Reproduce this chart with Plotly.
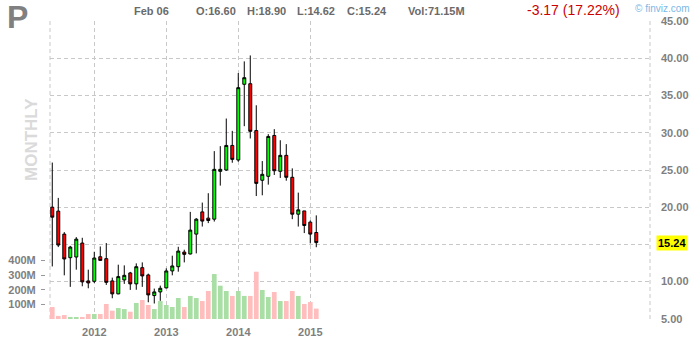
import plotly.graph_objects as go

# ---------------- data (monthly, Jun 2011 - Feb 2015) ----------------
months = ["2011-06", "2011-07", "2011-08", "2011-09", "2011-10", "2011-11", "2011-12",
          "2012-01", "2012-02", "2012-03", "2012-04", "2012-05", "2012-06", "2012-07",
          "2012-08", "2012-09", "2012-10", "2012-11", "2012-12",
          "2013-01", "2013-02", "2013-03", "2013-04", "2013-05", "2013-06", "2013-07",
          "2013-08", "2013-09", "2013-10", "2013-11", "2013-12",
          "2014-01", "2014-02", "2014-03", "2014-04", "2014-05", "2014-06", "2014-07",
          "2014-08", "2014-09", "2014-10", "2014-11", "2014-12",
          "2015-01", "2015-02"]
opens = [20.00, 19.47, 16.38, 13.21, 13.30, 15.18, 10.09,
         10.04, 13.34, 13.08, 10.09, 8.35, 10.22, 11.16, 9.69, 11.87, 10.89, 8.12, 8.61,
         9.15, 11.43, 12.00, 13.97, 13.71, 16.38, 19.37, 18.53, 18.39, 24.82, 25.00, 28.30,
         26.34, 36.52, 36.60, 30.30, 23.62, 24.15, 29.64, 24.82, 26.97, 24.02, 19.06, 19.50,
         17.99, 16.60]
highs = [26.00, 21.25, 16.65, 14.80, 15.98, 15.89, 11.60,
         14.01, 14.72, 15.18, 10.53, 12.27, 12.18, 11.30, 12.45, 12.58, 11.07, 9.06, 9.46,
         11.78, 13.48, 14.68, 14.28, 19.37, 18.53, 20.62, 21.88, 27.54, 28.21, 31.92, 30.26,
         38.03, 39.60, 40.40, 33.70, 26.20, 29.82, 30.49, 29.00, 28.48, 25.22, 21.96, 19.50,
         18.21, 18.90]
lows = [12.04, 14.64, 10.84, 9.29, 11.60, 9.37, 9.10,
        9.80, 12.85, 9.55, 7.76, 8.30, 9.69, 8.88, 8.90, 9.29, 7.22, 7.05, 7.41,
        9.10, 10.84, 11.33, 12.58, 13.65, 13.79, 17.40, 17.86, 18.07, 22.90, 24.90, 25.97,
        26.11, 30.89, 29.24, 21.50, 21.60, 23.03, 24.33, 23.93, 23.56, 18.39, 17.40, 16.52,
        15.13, 14.62]
closes = [18.66, 14.91, 13.04, 14.64, 15.71, 9.96, 9.82,
          13.17, 12.85, 9.90, 8.35, 10.67, 10.84, 9.69, 12.00, 10.76, 8.21, 8.61, 9.10,
          11.43, 12.10, 14.10, 13.66, 16.92, 18.39, 18.13, 18.21, 25.09, 25.09, 28.30, 26.43,
          36.07, 37.41, 30.20, 23.20, 24.42, 29.51, 24.90, 26.97, 24.02, 19.06, 19.64, 17.54,
          16.38, 15.24]
volumes_m = [82, 21, 27, 14, 7, 14, 34,
             34, 34, 103, 57, 75, 68, 50, 110, 130, 96, 68, 123,
             96, 82, 144, 82, 158, 144, 123, 192, 308, 228, 192, 158,
             192, 158, 158, 324, 199, 151, 185, 123, 123, 192, 158, 103,
             116, 71.15]
price_ticks = [5, 10, 15, 20, 25, 30, 35, 40, 45]
volume_ticks = [100, 200, 300, 400]
volume_tick_text = ["100M", "200M", "300M", "400M"]
last_close = 15.24
change_text = "-3.17 (17.22%)"

# ---------------- layout helpers ----------------
W, H = 700, 340
ML, MR, MT, MB = 45, 50, 21, 21
PW, PH = W - ML - MR, H - MT - MB


def pxx(x):
    return (x - ML) / PW


def pxy(y):
    return (H - MB - y) / PH


xs = list(range(len(months)))
year_vals = [i for i, m in enumerate(months) if m.endswith("-01")]
year_text = [months[i][:4] for i in year_vals]

GREEN_VOL = "#a9dea4"
RED_VOL = "#ffbdbd"
vol_colors = [GREEN_VOL if c >= o else RED_VOL for o, c in zip(opens, closes)]

GRAY = "#7f7f7f"
GRID = "#c8c8c8"
DASH = "4px,3px"
FONT = "Liberation Sans, Arial, sans-serif"

fig = go.Figure()

fig.add_trace(go.Bar(
    x=xs, y=volumes_m, marker=dict(color=vol_colors, line=dict(width=0)),
    width=0.78, yaxis="y", xaxis="x", hoverinfo="skip", showlegend=False))

fig.add_trace(go.Candlestick(
    x=xs, open=opens, high=highs, low=lows, close=closes,
    yaxis="y2", xaxis="x",
    increasing=dict(fillcolor="#00ff00", line=dict(color="#000000", width=1)),
    decreasing=dict(fillcolor="#ff0000", line=dict(color="#000000", width=1)),
    whiskerwidth=0, showlegend=False))

x_lo = -0.38
x_hi = x_lo + 600 / 6.0

price_text = ["" if v == 15 else "%.2f" % v for v in price_ticks]

fig.update_layout(
    template="none",
    width=W, height=H,
    margin=dict(l=ML, r=MR, t=MT, b=MB, pad=0, autoexpand=False),
    paper_bgcolor="white", plot_bgcolor="white",
    showlegend=False,
    font=dict(family=FONT, size=11, color=GRAY),
    boxgap=0.3,
    xaxis=dict(
        domain=[pxx(50), 1], range=[x_lo, x_hi], automargin=False,
        tickmode="array", tickvals=year_vals, ticktext=year_text,
        showgrid=True, gridcolor=GRID, griddash=DASH, gridwidth=1,
        zeroline=False, showline=False, ticks="",
        tickfont=dict(family=FONT, size=11, color=GRAY, weight="bold"),
        ticklabelstandoff=5,
        rangeslider=dict(visible=False), fixedrange=True),
    yaxis=dict(
        range=[0, PH / 0.146], anchor="free", position=0, side="left",
        automargin=False,
        tickmode="array", tickvals=volume_ticks, ticktext=volume_tick_text,
        showgrid=False, zeroline=False, showline=False,
        ticks="outside", ticklen=4, tickcolor="#999999", tickwidth=1,
        tickfont=dict(family=FONT, size=11, color=GRAY, weight="bold"),
        ticklabelstandoff=3, fixedrange=True),
    yaxis2=dict(
        range=[4.97, 45.03], overlaying="y", side="right", anchor="x",
        automargin=False,
        tickmode="array", tickvals=price_ticks, ticktext=price_text,
        showgrid=True, gridcolor=GRID, griddash=DASH, gridwidth=1,
        zeroline=False, showline=False, ticks="",
        tickfont=dict(family=FONT, size=11, color=GRAY, weight="bold"),
        ticklabelstandoff=10, fixedrange=True),
)

# dashed frame borders (left and right)
for xd in (0, 1):
    fig.add_shape(type="line", xref="x domain", yref="y2 domain",
                  x0=xd, x1=xd, y0=0, y1=1, layer="below",
                  line=dict(color=GRID, width=1, dash=DASH))

ann = []


def text(x, y, s, size=11, color=GRAY, bold=True, xanchor="left", angle=0):
    ann.append(dict(xref="paper", yref="paper", x=pxx(x), y=pxy(y), text=s,
                    showarrow=False, xanchor=xanchor, yanchor="middle",
                    textangle=angle,
                    font=dict(family=FONT, size=size, color=color,
                              weight="bold" if bold else "normal")))


text(5, 17, "P", size=32, color="#808080")
text(132, 11, "Feb 06", size=11, color="#6a6a6a")
text(194, 11, "O:%.2f" % opens[-1], size=11, color="#6a6a6a")
text(245, 11, "H:%.2f" % highs[-1], size=11, color="#6a6a6a")
text(295, 11, "L:%.2f" % lows[-1], size=11, color="#6a6a6a")
text(345, 11, "C:%.2f" % closes[-1], size=11, color="#6a6a6a")
text(406, 11, "Vol:%.2fM" % volumes_m[-1], size=11, color="#6a6a6a")
text(525, 10, change_text, size=14, color="#cc0000", bold=False)
text(633, 8, "© finviz.com", size=10, color="#7cb8e6", bold=False)
text(31, 140, "MONTHLY", size=17, color="#dadada", angle=-90, xanchor="center")

# last price badge
ann.append(dict(xref="paper", yref="y2", x=pxx(656), y=last_close,
                text="%.2f" % last_close, showarrow=False,
                xanchor="left", yanchor="middle",
                bgcolor="#ffff00", borderpad=1,
                font=dict(family=FONT, size=11, color="#000000", weight="bold")))

fig.update_layout(annotations=ann)

fig.write_html("out.html")
